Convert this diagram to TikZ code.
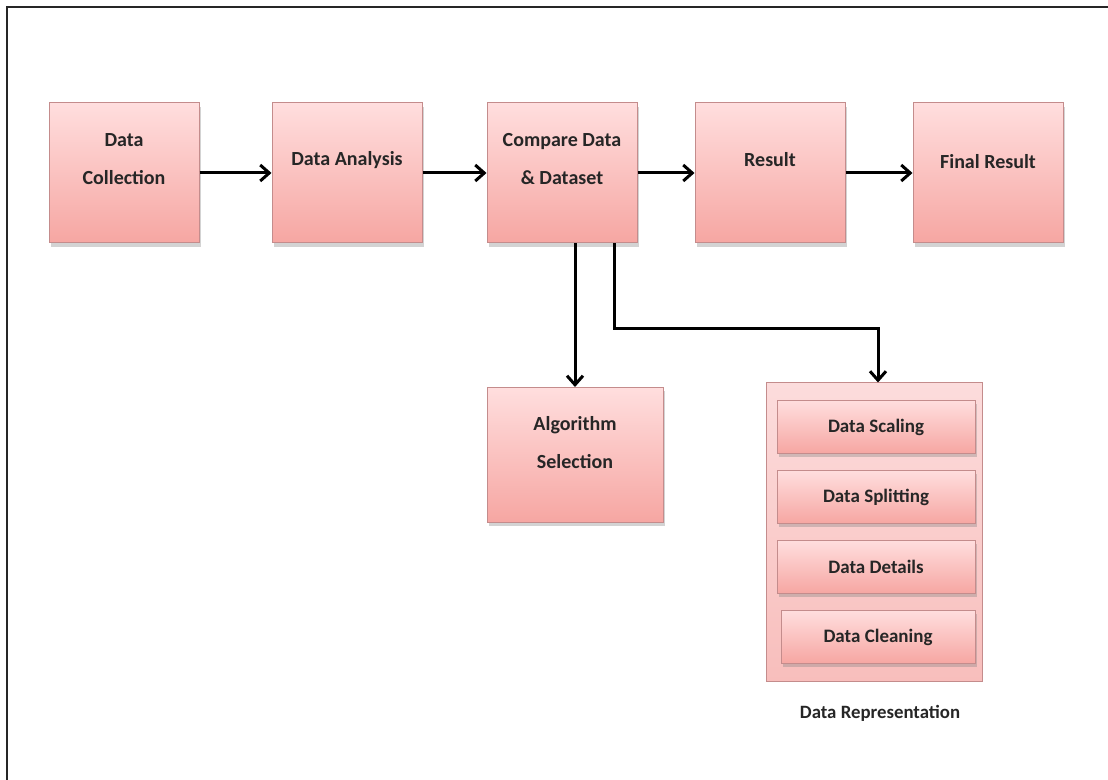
\documentclass[tikz,border=0pt]{standalone}
\usepackage{fontspec}
\usepackage{tikz}
\usetikzlibrary{arrows.meta, shadows}
\newfontfamily\boxfont{Carlito}
\definecolor{boxtop}{RGB}{255,222,222}
\definecolor{boxbot}{RGB}{246,166,162}
\definecolor{boxedge}{RGB}{196,140,140}
\definecolor{reptop}{RGB}{252,220,220}
\definecolor{repbot}{RGB}{248,190,188}
\tikzset{
    box/.style={rectangle, draw=boxedge, line width=0.5pt, top color=boxtop, bottom color=boxbot,
        minimum width=75pt, minimum height=70pt, inner sep=0pt,
        drop shadow={shadow xshift=1.2pt, shadow yshift=-1.8pt, opacity=0.35}},
    boxtext/.style={align=center, text=black!85, font=\boxfont\bfseries\fontsize{10}{19}\selectfont, inner sep=0pt},
    subbox/.style={box, minimum width=99pt, minimum height=26.5pt},
    group/.style={rectangle, draw=boxedge, line width=0.5pt, top color=reptop, bottom color=repbot,
        minimum width=108pt, minimum height=149pt, inner sep=0pt},
    flow/.style={-{Straight Barb[length=4.5pt, width=8pt]}, line width=1.5pt, black},
    frame/.style={line width=1pt, black!85}
}

\begin{document}
\begin{tikzpicture}[x=0.5pt, y=-0.5pt]
    \useasboundingbox (0,0) rectangle (1108,780);
    \draw[frame] (7,780) -- (7,7) -- (1108,7);
    % main row
    \node[box, label={[boxtext, yshift=7pt]center:{Data\\Collection}}] (coll) at (124,173) {};
    \node[box, label={[boxtext, yshift=6.5pt]center:{Data Analysis}}] (ana) at (347,173) {};
    \node[box, label={[boxtext, yshift=7pt]center:{Compare Data\\\& Dataset}}] (cmp) at (562,173) {};
    \node[box, label={[boxtext, yshift=6.5pt]center:{Result}}] (res) at (770,173) {};
    \node[box, label={[boxtext, yshift=5.5pt]center:{Final Result}}] (fin) at (988,173) {};
    \draw[flow] (coll) -- (ana);
    \draw[flow] (ana) -- (cmp);
    \draw[flow] (cmp) -- (res);
    \draw[flow] (res) -- (fin);
    % branches below Compare
    \node[box, minimum width=88pt, minimum height=67.5pt,
        label={[boxtext, yshift=6pt]center:{Algorithm\\Selection}}] (alg) at (575,455) {};
    \node[group] (rep) at (874,532) {};
    \node[subbox, boxtext, font=\boxfont\bfseries\fontsize{9.5}{12}\selectfont] (scal) at (876,427) {Data Scaling};
    \node[subbox, boxtext, font=\boxfont\bfseries\fontsize{9.5}{12}\selectfont] (split) at (876,497) {Data Splitting};
    \node[subbox, boxtext, font=\boxfont\bfseries\fontsize{9.5}{12}\selectfont] (det) at (876,567) {Data Details};
    \node[subbox, boxtext, minimum width=97pt, font=\boxfont\bfseries\fontsize{9.5}{12}\selectfont] (clean) at (878,637) {Data Cleaning};
    \node[boxtext, font=\boxfont\bfseries\fontsize{9.4}{12}\selectfont] (repcap) at (880,713) {Data Representation};
    \draw[flow] (cmp.south -| alg.north) -- (alg.north);
    \draw[flow] ([xshift=26pt]cmp.south) -- ++(0,85) -| ([xshift=2pt]rep.north);
\end{tikzpicture}
\end{document}
